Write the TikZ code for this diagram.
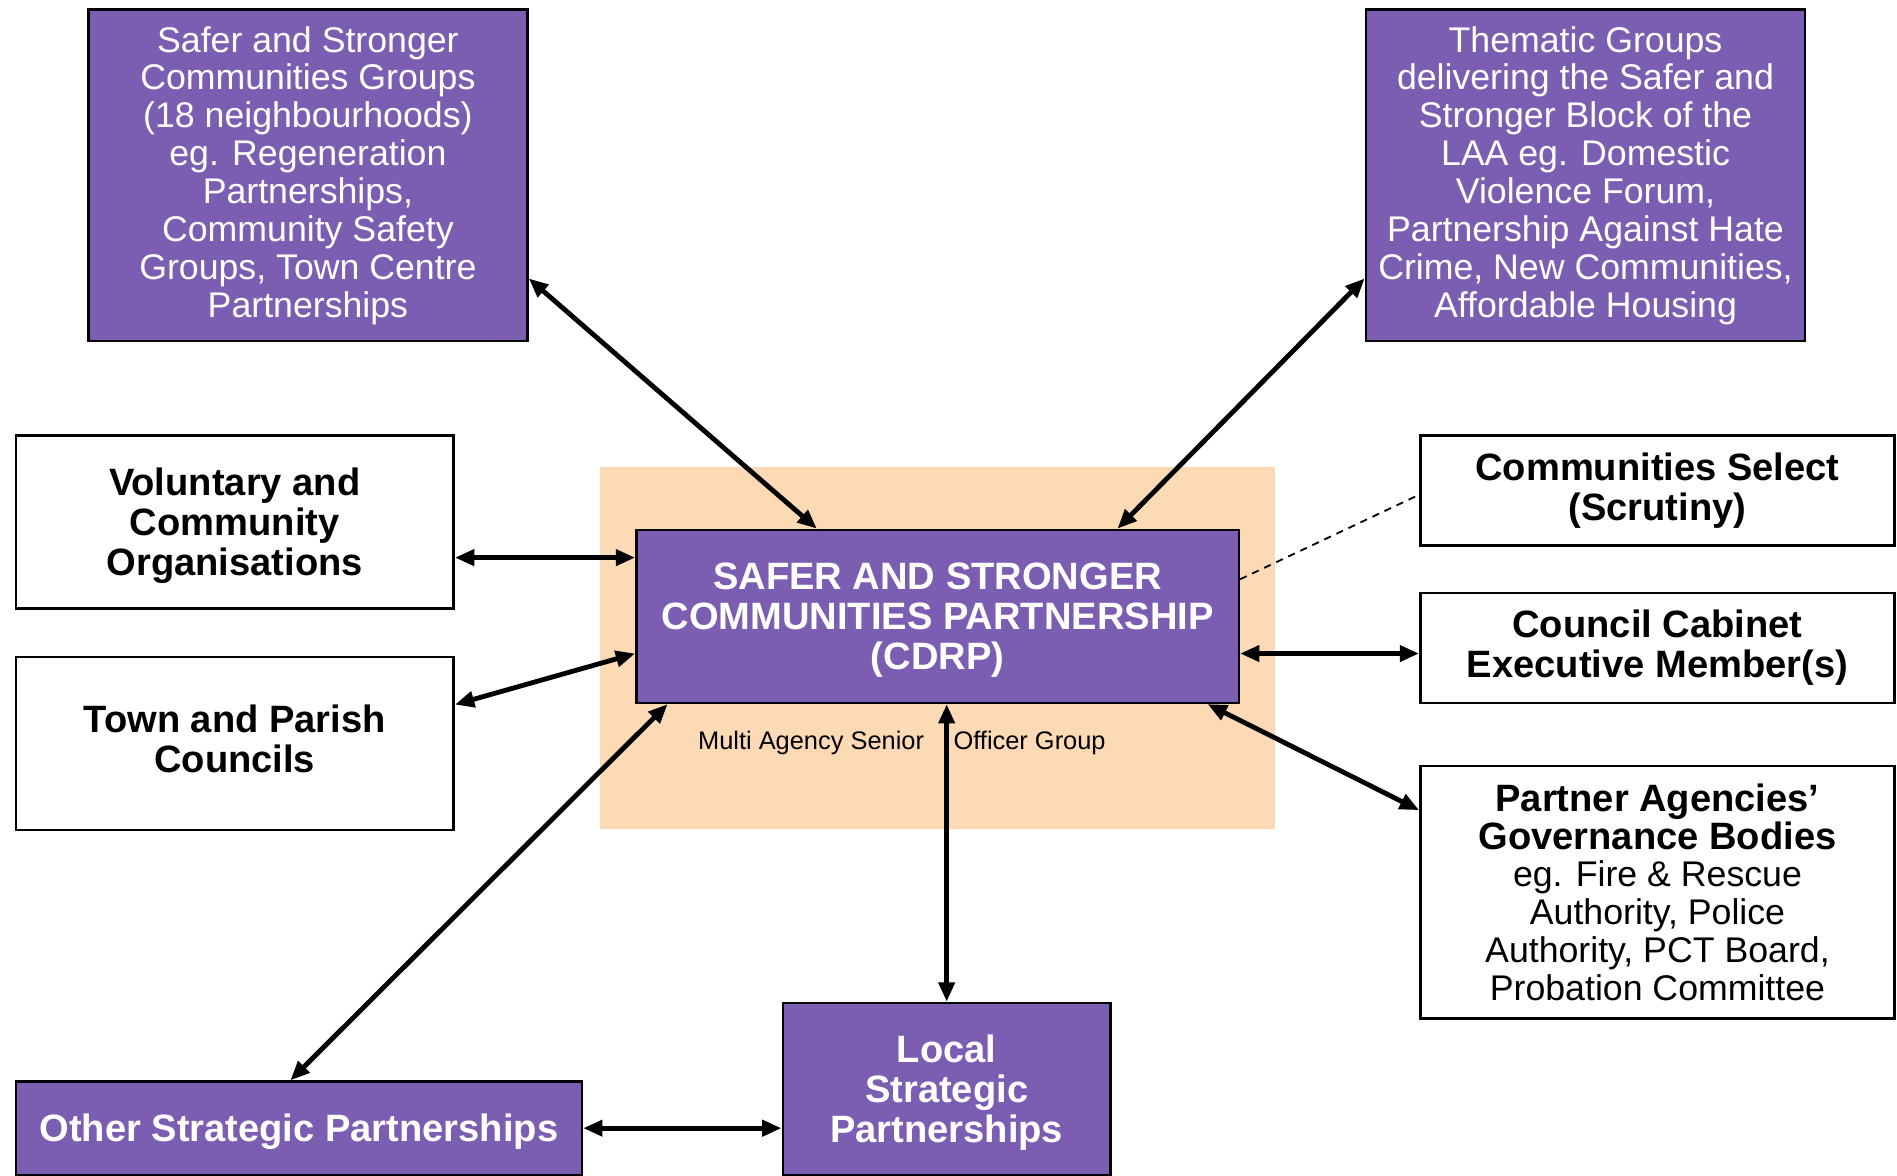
\documentclass[tikz,border=0pt]{standalone}
\usepackage{fontspec}
\setmainfont{Liberation Sans}
\usepackage{tikz}
\usetikzlibrary{arrows.meta}
\definecolor{blockpurple}{RGB}{123,94,178}
\definecolor{meetingpeach}{RGB}{253,218,182}

\tikzset{
  purplebox/.style={draw=black, line width=2pt, fill=blockpurple, text=white,
    align=center, inner sep=0pt, font=\fontsize{29.5}{31.3}\selectfont},
  purplebold/.style={purplebox, font=\fontsize{31.5}{33}\selectfont\bfseries},
  whitebox/.style={draw=black, line width=2pt, fill=white, text=black,
    align=center, inner sep=0pt, font=\fontsize{31.5}{33}\selectfont\bfseries},
  link/.style={line width=4pt, {Triangle[length=16pt,width=13pt]}-{Triangle[length=16pt,width=13pt]}},
  scrutiny/.style={line width=1.5pt, dash pattern=on 6pt off 5pt}
}

\begin{document}
\begin{tikzpicture}[x=1pt,y=-1pt]
  \useasboundingbox (0,0) rectangle (1568,972);
  % officer group backdrop
  \fill[meetingpeach] (496,386) rectangle (1054,685);

  \node[purplebox, minimum width=363, minimum height=274] (sscg) at (254.5,145)
    {Safer and Stronger\\Communities Groups\\(18 neighbourhoods)\\eg. Regeneration\\Partnerships,\\Community Safety\\Groups, Town Centre\\Partnerships};
  \node[purplebox, minimum width=363, minimum height=274] (theme) at (1310.5,145)
    {Thematic Groups\\delivering the Safer and\\Stronger Block of the\\LAA eg. Domestic\\Violence Forum,\\Partnership Against Hate\\Crime, New Communities,\\Affordable Housing};
  \node[whitebox, minimum width=362, minimum height=143, text depth=0pt] (vol) at (194,431.5)
    {Voluntary and\\Community\\Organisations};
  \node[whitebox, minimum width=362, minimum height=143, text depth=8pt] (town) at (194,614.5)
    {Town and Parish\\Councils};
  \node[purplebold, minimum width=498, minimum height=143, text depth=0pt] (sscp) at (775,509.5)
    {SAFER AND STRONGER\\COMMUNITIES PARTNERSHIP\\(CDRP)};
  \node[whitebox, minimum width=392, minimum height=91] (select) at (1370,405.5)
    {Communities Select\\(Scrutiny)};
  \node[whitebox, minimum width=392, minimum height=91] (cabinet) at (1370,535.5)
    {Council Cabinet\\Executive Member(s)};
  \node[whitebox, minimum width=392, minimum height=209, font=\fontsize{29.5}{31.3}\selectfont] (agencies) at (1370,737.5)
    {\fontsize{31.5}{33}\selectfont\textbf{Partner Agencies’}\\\fontsize{31.5}{33}\selectfont\textbf{Governance Bodies}\\eg. Fire \& Rescue\\Authority, Police\\Authority, PCT Board,\\Probation Committee};
  \node[purplebold, minimum width=468, minimum height=77, text depth=0pt] (osp) at (247,932.5)
    {Other Strategic Partnerships};
  \node[purplebold, minimum width=271, minimum height=142, text depth=0pt] (lsp) at (782.5,900)
    {Local\\Strategic\\Partnerships};

  % officer group label, split by the link below it
  \node[anchor=east, inner sep=0pt, font=\fontsize{21}{23}\selectfont] (masog) at (764,614) {Multi Agency Senior};
  \node[anchor=west, inner sep=0pt, font=\fontsize{21}{23}\selectfont] (masog2) at (788,614) {Officer Group};

  % links
  \draw[link] (sscg.-25.6) -- (sscp.144.2);
  \draw[link] (theme.205.6) -- (sscp.26.6);
  \draw[link] (vol.east |- sscp.169.6) -- (sscp.169.6);
  \draw[link] (town.10.8) -- (sscp.187.7);
  \draw[link] (osp.100) -- (sscp.198);
  \draw[link] (lsp.north) -- (lsp.north |- sscp.south);
  \draw[link] (sscp.-7.7) -- (sscp.-7.7 -| cabinet.west);
  \draw[link] (sscp.-18.1) -- (agencies.161.3);
  \draw[link] (osp.east) -- (osp.east -| lsp.west);
  \draw[scrutiny] (sscp.7.9) -- (select.181.9);
\end{tikzpicture}
\end{document}
